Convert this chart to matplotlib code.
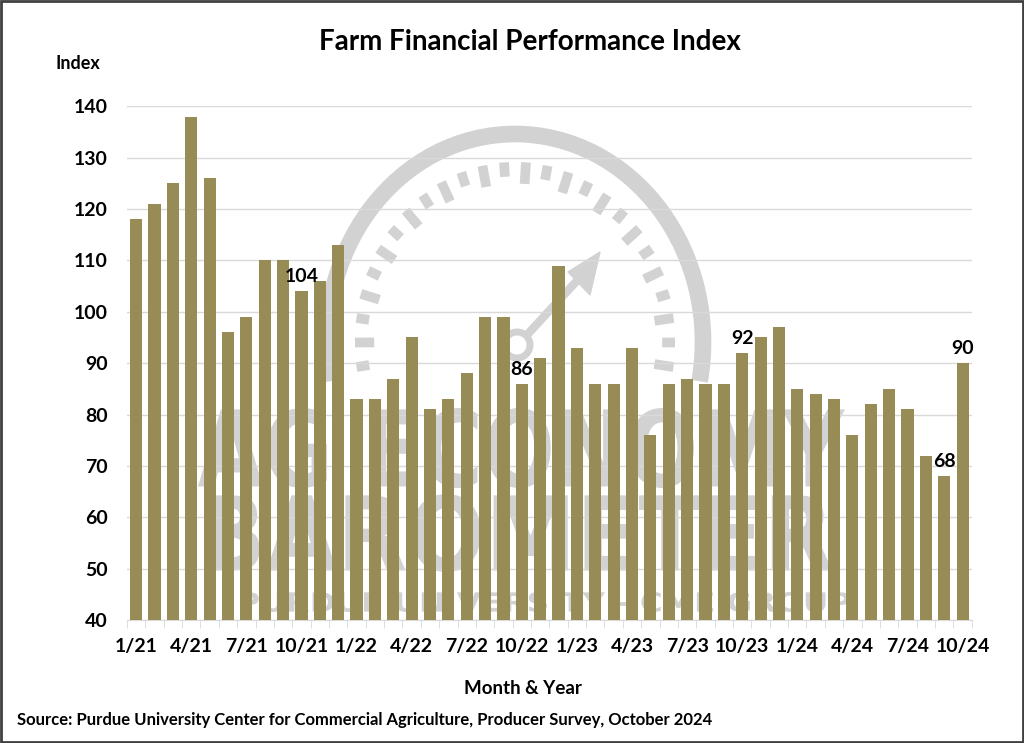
import numpy as np
import matplotlib.pyplot as plt
from matplotlib.patches import Rectangle, Arc, Circle, PathPatch
from matplotlib.textpath import TextPath
from matplotlib.font_manager import FontProperties
from matplotlib.transforms import Affine2D

# Monthly index values, 1/21 .. 10/24
months = [f"{m}/{y}" for y in (21, 22, 23, 24) for m in range(1, 13)][:46]
values = [118, 121, 125, 138, 126, 96, 99, 110, 110, 104, 106, 113,
          83, 83, 87, 95, 81, 83, 88, 99, 99, 86, 91, 109,
          93, 86, 86, 93, 76, 86, 87, 86, 86, 92, 95, 97,
          85, 84, 83, 76, 82, 85, 81, 72, 68, 90]
labelled = {"10/21": 104, "10/22": 86, "10/23": 92, "9/24": 68, "10/24": 90}
tick_labels = [m if i % 3 == 0 else "" for i, m in enumerate(months)]

plt.rcParams['font.family'] = ['Lato', 'DejaVu Sans']
plt.rcParams['font.weight'] = 'bold'

W, H = 1024, 743
fig = plt.figure(figsize=(W / 100, H / 100), dpi=100)

# --- background watermark (gauge logo), drawn in pixel coords (y down) ---
bg = fig.add_axes([0, 0, 1, 1], zorder=0)
bg.set_xlim(0, W)
bg.set_ylim(H, 0)
bg.axis("off")
wm = "#d2d2d2"
cx, cy = 515, 342
# y axis is inverted, so angles are mirrored
bg.add_patch(Arc((cx, cy), 2 * 188, 2 * 208, theta1=168, theta2=372,
                 color=wm, lw=12))
for k, ang in enumerate(np.linspace(-8, 188, 26)):
    a = np.radians(ang)
    r_in = 0.88 if k % 2 == 0 else 0.92
    rx, ry = 160, 180
    x0, y0 = cx + rx * r_in * np.cos(a), cy - ry * r_in * np.sin(a)
    x1, y1 = cx + rx * np.cos(a), cy - ry * np.sin(a)
    bg.plot([x0, x1], [y0, y1], color=wm, lw=7, solid_capstyle="butt")
bg.add_patch(Circle((517, 345), 13, fill=False, ec=wm, lw=5))
bg.plot([526, 585], [336, 272], color=wm, lw=6, solid_capstyle="butt")
bg.add_patch(plt.Polygon([[600, 252], [568, 272], [590, 295]], color=wm))


def fit_text(s, x0, x1, ytop, ybot):
    path = TextPath((0, 0), s, size=1,
                    prop=FontProperties(family="DejaVu Sans", weight="bold"))
    ext = path.get_extents()
    tr = (Affine2D().translate(-ext.x0, -ext.y0)
          .scale((x1 - x0) / ext.width, -(ybot - ytop) / ext.height)
          .translate(x0, ybot))
    bg.add_patch(PathPatch(tr.transform_path(path), color=wm, lw=0))


fit_text("AG ECONOMY", 198, 845, 408, 488)
fit_text("BAROMETER", 205, 832, 494, 572)
fit_text("PURDUE UNIVERSITY - CME GROUP", 240, 850, 592, 612)

# --- main chart ---
ax = fig.add_axes([0.124, 0.1655, 0.825, 0.6915], zorder=1)
x = np.arange(len(months))
ax.bar(x, values, width=0.66, color="#978C56", zorder=3)

for i, m in enumerate(months):
    if m in labelled:
        ax.text(i, values[i] + 1.2, str(labelled[m]), ha="center", va="bottom",
                fontsize=14, fontweight="bold", zorder=4)

ax.set_xlim(-0.5, len(months) - 0.5)
ax.set_ylim(40, 140)
ax.set_yticks(range(40, 141, 10))
ax.grid(axis="y", color="#d9d9d9", lw=1, zorder=0)
ax.set_xticks(x)
ax.set_xticklabels(tick_labels, fontsize=14, fontweight="bold")
ax.set_xticks(np.arange(-0.5, len(months)), minor=True)
ax.tick_params(axis="x", which="major", length=0, pad=13)
ax.tick_params(axis="x", which="minor", length=6, color="#d9d9d9")
ax.tick_params(axis="y", length=0, pad=14, labelsize=14)
for lab in ax.get_yticklabels():
    lab.set_fontweight("bold")
for s in ("top", "right", "left"):
    ax.spines[s].set_visible(False)
ax.spines["bottom"].set_color("#d9d9d9")
ax.set_facecolor("none")

fig.text(0.518, 0.943, "Farm Financial Performance Index", ha="center",
         va="center", fontsize=20, fontweight="bold")
fig.text(0.054, 0.915, "Index", ha="left", va="center", fontsize=13,
         fontweight="bold")
fig.text(0.511, 0.074, "Month & Year", ha="center", va="center",
         fontsize=13.5, fontweight="bold")
fig.text(0.017, 0.031, "Source: Purdue University Center for Commercial Agriculture, "
         "Producer Survey, October 2024", ha="left", va="center",
         fontsize=12, fontweight="bold")

fig.patches.append(Rectangle((0.001, 0.001), 0.998, 0.998, transform=fig.transFigure,
                             fill=False, ec="#404040", lw=2))

fig.savefig("out.png", dpi=100)
